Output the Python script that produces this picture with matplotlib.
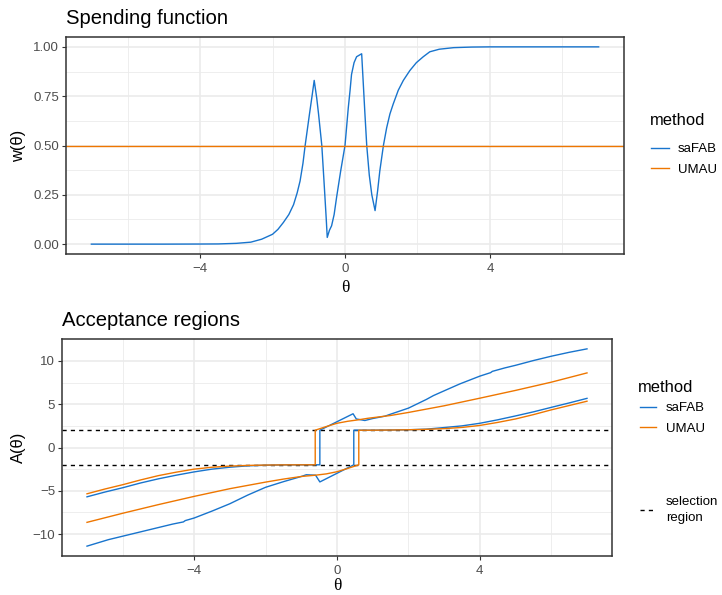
import matplotlib
matplotlib.use("Agg")
import matplotlib.pyplot as plt
from matplotlib.lines import Line2D

# ---- spending function w(theta) ----
theta_w = [-7.0, -5.0, -4.0, -3.5, -3.0, -2.6, -2.3, -2.0, -1.85, -1.7, -1.55, -1.42,
           -1.32, -1.24, -1.16, -1.10, -1.04, -0.98, -0.91, -0.85, -0.78, -0.73, -0.64,
           -0.58, -0.52, -0.49, -0.43, -0.37, -0.30, -0.23, -0.12, 0.0, 0.09, 0.14,
           0.18, 0.25, 0.32, 0.46, 0.50, 0.55, 0.60, 0.67, 0.74, 0.83, 0.90, 0.96,
           1.06, 1.15, 1.24, 1.33, 1.47, 1.61, 1.79, 1.97, 2.16, 2.34, 2.6, 3.0, 3.5,
           4.0, 7.0]
w_safab = [0.0, 0.0, 0.0005, 0.001, 0.004, 0.01, 0.025, 0.05, 0.075, 0.11, 0.15, 0.20,
           0.26, 0.32, 0.41, 0.50, 0.58, 0.66, 0.75, 0.83, 0.74, 0.66, 0.50,
           0.32, 0.135, 0.034, 0.07, 0.093, 0.15, 0.24, 0.37, 0.50, 0.69, 0.78,
           0.86, 0.92, 0.95, 0.965, 0.83, 0.66, 0.50, 0.35, 0.25, 0.17, 0.27, 0.37,
           0.50, 0.59, 0.66, 0.71, 0.78, 0.83, 0.88, 0.92, 0.95, 0.975, 0.988, 0.996, 0.999,
           1.0, 1.0]
w_umau = 0.5

# ---- acceptance regions A(theta): lower / upper bounds ----
theta_fab_lo = [-7.0, -6.4, -6.0, -5.5, -5.0, -4.6, -4.3, -4.25, -4.0, -3.5, -3.0, -2.5,
                -2.0, -1.5, -1.0, -0.86, -0.6, -0.48, 0.47, 0.47, 1.0, 1.5, 2.0, 2.5,
                2.88, 3.5, 4.0, 4.5, 5.0, 5.5, 6.0, 6.5, 7.0]
A_fab_lo = [-11.4, -10.65, -10.25, -9.75, -9.25, -8.85, -8.6, -8.45, -8.15, -7.35, -6.5, -5.5,
            -4.6, -3.95, -3.35, -3.15, -3.2, -3.98, -2.0, 2.0, 2.0, 2.02, 2.05, 2.12,
            2.26, 2.5, 2.8, 3.2, 3.65, 4.12, 4.64, 5.15, 5.68]

theta_fab_hi = [-7.0, -6.5, -6.0, -5.5, -5.0, -4.5, -4.0, -3.5, -3.0, -2.5, -2.0, -1.5,
                -1.0, -0.48, -0.48, 0.45, 0.54, 0.78, 1.0, 1.34, 1.5, 2.0, 2.5, 2.7, 3.0,
                3.44, 4.0, 4.3, 4.35, 4.7, 5.0, 5.5, 6.0, 6.5, 7.0]
A_fab_hi = [-5.7, -5.15, -4.65, -4.1, -3.62, -3.2, -2.82, -2.5, -2.28, -2.12, -2.05, -2.01,
            -2.0, -2.0, 2.0, 3.9, 3.3, 3.12, 3.35, 3.62, 3.85, 4.55, 5.55, 6.0, 6.55,
            7.35, 8.25, 8.65, 8.8, 9.2, 9.5, 10.05, 10.55, 11.0, 11.4]

theta_umau_lo = [-7.0, -6.0, -5.0, -4.0, -3.0, -2.0, -1.5, -1.0, -0.6, -0.3, 0.0, 0.3,
                 0.61, 0.61, 1.0, 1.5, 2.0, 2.5, 3.0, 3.5, 4.0, 4.5, 5.0, 5.5, 6.0, 6.5, 7.0]
A_umau_lo = [-8.65, -7.6, -6.6, -5.65, -4.76, -4.0, -3.65, -3.35, -3.2, -3.05, -2.8, -2.42,
             -2.0, 2.0, 2.0, 2.02, 2.05, 2.1, 2.18, 2.32, 2.55, 2.9, 3.3, 3.8, 4.35, 4.85, 5.35]

theta_umau_hi = [-7.0, -6.5, -6.0, -5.5, -5.0, -4.5, -4.0, -3.5, -3.0, -2.5, -2.0, -1.5,
                 -0.61, -0.61, -0.3, 0.0, 0.3, 0.6, 0.87, 1.5, 2.0, 3.0, 4.0, 5.0, 6.0, 7.0]
A_umau_hi = [-5.35, -4.8, -4.3, -3.75, -3.25, -2.85, -2.5, -2.28, -2.15, -2.07, -2.03, -2.01,
             -2.0, 2.0, 2.42, 2.8, 3.03, 3.2, 3.38, 3.7, 4.05, 4.82, 5.7, 6.6, 7.55, 8.62]

selection = [-2, 2]

x_ticks = [-4, 0, 4]
x_minor = [-6, -2, 2, 6]
w_ticks = [0.0, 0.25, 0.5, 0.75, 1.0]
w_minor = [0.125, 0.375, 0.625, 0.875]
A_ticks = [-10, -5, 0, 5, 10]
A_minor = [-7.5, -2.5, 2.5, 7.5]

BLUE = "#1874CD"
ORANGE = "#EE7600"
plt.rcParams['font.family'] = ['Liberation Sans', 'DejaVu Sans']

W, H = 722, 595
fig = plt.figure(figsize=(W / 100, H / 100), dpi=100)


def px_axes(l, t, r, b):
    return fig.add_axes([l / W, 1 - b / H, (r - l) / W, (b - t) / H])


def expand(lo, hi, f=0.05):
    d = (hi - lo) * f
    return lo - d, hi + d


def style(ax, yt, ym, ylabel, fmt, xpad):
    ax.set_xticks(x_ticks)
    ax.set_xticks(x_minor, minor=True)
    ax.set_yticks(yt)
    ax.set_yticks(ym, minor=True)
    ax.set_yticklabels([fmt(v) for v in yt])
    ax.grid(which='major', color='#EBEBEB', lw=1.2)
    ax.grid(which='minor', color='#EBEBEB', lw=0.6)
    ax.set_axisbelow(True)
    for s in ax.spines.values():
        s.set_color('#333333')
        s.set_linewidth(1.1)
    ax.tick_params(which='major', color='#333333', labelcolor='#4D4D4D',
                   labelsize=9.5, length=3, width=0.8)
    ax.tick_params(axis='x', which='major', pad=3.5)
    ax.tick_params(axis='y', which='major', pad=2)
    ax.tick_params(which='minor', length=0)
    ax.set_xlabel('θ', family=['Liberation Serif', 'DejaVu Serif'], fontsize=12.5, labelpad=xpad)
    ax.set_ylabel(ylabel, fontsize=11.9, labelpad=5)


def method_legend(handles, x_title, y_title, x_key, y_mid, hl):
    fig.text(x_title / W, 1 - y_title / H, 'method', fontsize=11.9, va='center')
    fig.legend(handles, ['saFAB', 'UMAU'], loc='center left',
               bbox_to_anchor=(x_key / W, 1 - y_mid / H), frameon=False, fontsize=9.5,
               handlelength=hl, handletextpad=0.7, labelspacing=0.64,
               borderpad=0, borderaxespad=0)


# ---- top panel ----
ax1 = px_axes(66, 37, 624, 254)
l1, = ax1.plot(theta_w, w_safab, color=BLUE, lw=1.0)
l2 = ax1.axhline(w_umau, color=ORANGE, lw=1.0)
ax1.set_xlim(*expand(min(theta_w), max(theta_w)))
ax1.set_ylim(*expand(0, 1))
style(ax1, w_ticks, w_minor, 'w(θ)', lambda v: f"{v:.2f}", 3.5)
fig.text(66 / W, 1 - 24 / H, 'Spending function', fontsize=14.6, va='baseline')
method_legend([l1, l2], 650, 121, 651, 159.5, 1.35)

# ---- bottom panel ----
ax2 = px_axes(62, 339, 612, 556)
for sv in selection:
    ax2.axhline(sv, color='black', lw=1.0, ls=(0, (3, 3)))
ax2.plot(theta_fab_lo, A_fab_lo, color=BLUE, lw=1.0)
ax2.plot(theta_fab_hi, A_fab_hi, color=BLUE, lw=1.0)
ax2.plot(theta_umau_lo, A_umau_lo, color=ORANGE, lw=1.0)
ax2.plot(theta_umau_hi, A_umau_hi, color=ORANGE, lw=1.0)
ax2.set_xlim(*expand(-7, 7))
ax2.set_ylim(*expand(min(A_fab_lo), max(A_fab_hi)))
style(ax2, A_ticks, A_minor, 'A(θ)', lambda v: f"{v:g}".replace('-', '\u2212'), 1.0)
fig.text(62 / W, 1 - 326 / H, 'Acceptance regions', fontsize=14.6, va='baseline')

h_fab = Line2D([], [], color=BLUE, lw=1.0)
h_umau = Line2D([], [], color=ORANGE, lw=1.0)
h_sel = Line2D([], [], color='black', lw=1.0, ls=(0, (3, 3)))
method_legend([h_fab, h_umau], 638, 388, 640, 418.5, 1.25)
leg = fig.legend([h_sel], ['selection\nregion'], loc='center left',
                 bbox_to_anchor=(640 / W, 1 - 510 / H), frameon=False, fontsize=9.5,
                 handlelength=1.25, handletextpad=0.7, borderpad=0, borderaxespad=0)
for t in leg.get_texts():
    t.set_linespacing(1.35)

fig.savefig('out.png', dpi=100)
